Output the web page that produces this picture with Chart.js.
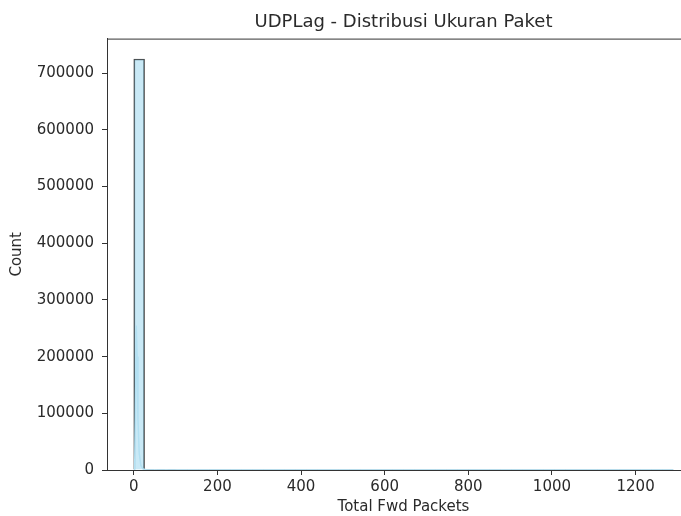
<!DOCTYPE html>
<html>
<head>
<meta charset="utf-8">
<script src="https://cdn.jsdelivr.net/npm/chart.js@4.4.1/dist/chart.umd.min.js"></script>
<style>
  html, body { margin: 0; padding: 0; background: #fff; overflow: hidden; width: 681px; height: 516px; }
  canvas { display: block; }
</style>
</head>
<body>
<canvas id="chart" width="700" height="516"></canvas>
<script>
// histogram bins of Total Fwd Packets (50 bins)
const binStart = 0;
const binWidth = 25.8;
const binCounts = [
  725000, 1400, 420, 210, 130, 90, 70, 50, 40, 35,
  30, 25, 20, 18, 15, 14, 12, 10, 9, 8,
  8, 7, 6, 6, 5, 5, 4, 4, 4, 3,
  3, 3, 2, 2, 2, 2, 2, 2, 1, 1,
  1, 1, 1, 1, 1, 1, 1, 1, 1, 1
];
// kde curve (skyblue line inside the first bar)
const kdeX = [2, 4, 6, 8, 10, 13, 17, 22, 30, 60, 1290];
const kdeY = [0, 90000, 255000, 200000, 90000, 30000, 8000, 2000, 400, 0, 0];
const xTicks = [0, 200, 400, 600, 800, 1000, 1200];
const yTicks = [0, 100000, 200000, 300000, 400000, 500000, 600000, 700000];

const FONT = 'DejaVu Sans';
const TXT = '#2a2a2a';

const barData = binCounts.map((c, i) => ({ x: binStart + binWidth * (i + 0.5), y: c }));
const kdeData = kdeX.map((x, i) => ({ x: x, y: kdeY[i] }));

// full box of spines like matplotlib
const framePlugin = {
  id: 'frame',
  afterDraw(chart) {
    const { ctx, chartArea: a } = chart;
    ctx.save();
    ctx.strokeStyle = '#333';
    ctx.lineWidth = 1;
    ctx.beginPath();
    ctx.moveTo(a.left + 0.5, a.bottom + 0.5);
    ctx.lineTo(a.left + 0.5, a.top + 0.5);
    ctx.lineTo(a.right + 0.5, a.top + 0.5);
    ctx.lineTo(a.right + 0.5, a.bottom + 0.5);
    ctx.lineTo(a.left + 0.5, a.bottom + 0.5);
    ctx.stroke();
    ctx.restore();
  }
};

new Chart(document.getElementById('chart'), {
  type: 'bar',
  data: {
    datasets: [{
      type: 'bar',
      data: barData,
      backgroundColor: 'rgba(135,206,235,0.45)',
      borderColor: '#444',
      borderWidth: 1,
      barPercentage: 1,
      categoryPercentage: 1,
      order: 2
    }, {
      type: 'line',
      data: kdeData,
      borderColor: '#b3e0f2',
      borderWidth: 1.5,
      pointRadius: 0,
      tension: 0,
      order: 1
    }]
  },
  plugins: [framePlugin],
  options: {
    responsive: false,
    animation: false,
    layout: { padding: 0 },
    plugins: {
      legend: { display: false },
      tooltip: { enabled: false },
      title: {
        display: true,
        text: 'UDPLag - Distribusi Ukuran Paket',
        fullSize: false,
        color: TXT,
        font: { family: FONT, size: 18, weight: 'normal' },
        padding: { top: 12, bottom: 5 }
      }
    },
    scales: {
      x: {
        type: 'linear',
        min: -64,
        max: 1354,
        offset: false,
        afterBuildTicks: s => { s.ticks = xTicks.map(v => ({ value: v })); },
        afterFit: s => { s.height = 46; },
        grid: { offset: false, drawOnChartArea: false, drawTicks: true, tickLength: 5, color: '#333' },
        border: { display: true, color: '#333' },
        ticks: { color: TXT, font: { family: FONT, size: 15 }, padding: 3, maxRotation: 0, autoSkip: false, callback: v => String(v) },
        title: { display: true, text: 'Total Fwd Packets', color: TXT, font: { family: FONT, size: 15 }, padding: { top: 0, bottom: 0 } }
      },
      y: {
        min: 0,
        max: 761000,
        afterBuildTicks: s => { s.ticks = yTicks.map(v => ({ value: v })); },
        afterFit: s => { s.width = 107; },
        grid: { drawOnChartArea: false, drawTicks: true, tickLength: 5, color: '#333' },
        border: { display: true, color: '#333' },
        ticks: { color: TXT, font: { family: FONT, size: 15 }, padding: 8, autoSkip: false, callback: v => String(v) },
        title: { display: true, text: 'Count', color: TXT, font: { family: FONT, size: 15 }, padding: { top: 8, bottom: 0 } }
      }
    }
  }
});
</script>
</body>
</html>
